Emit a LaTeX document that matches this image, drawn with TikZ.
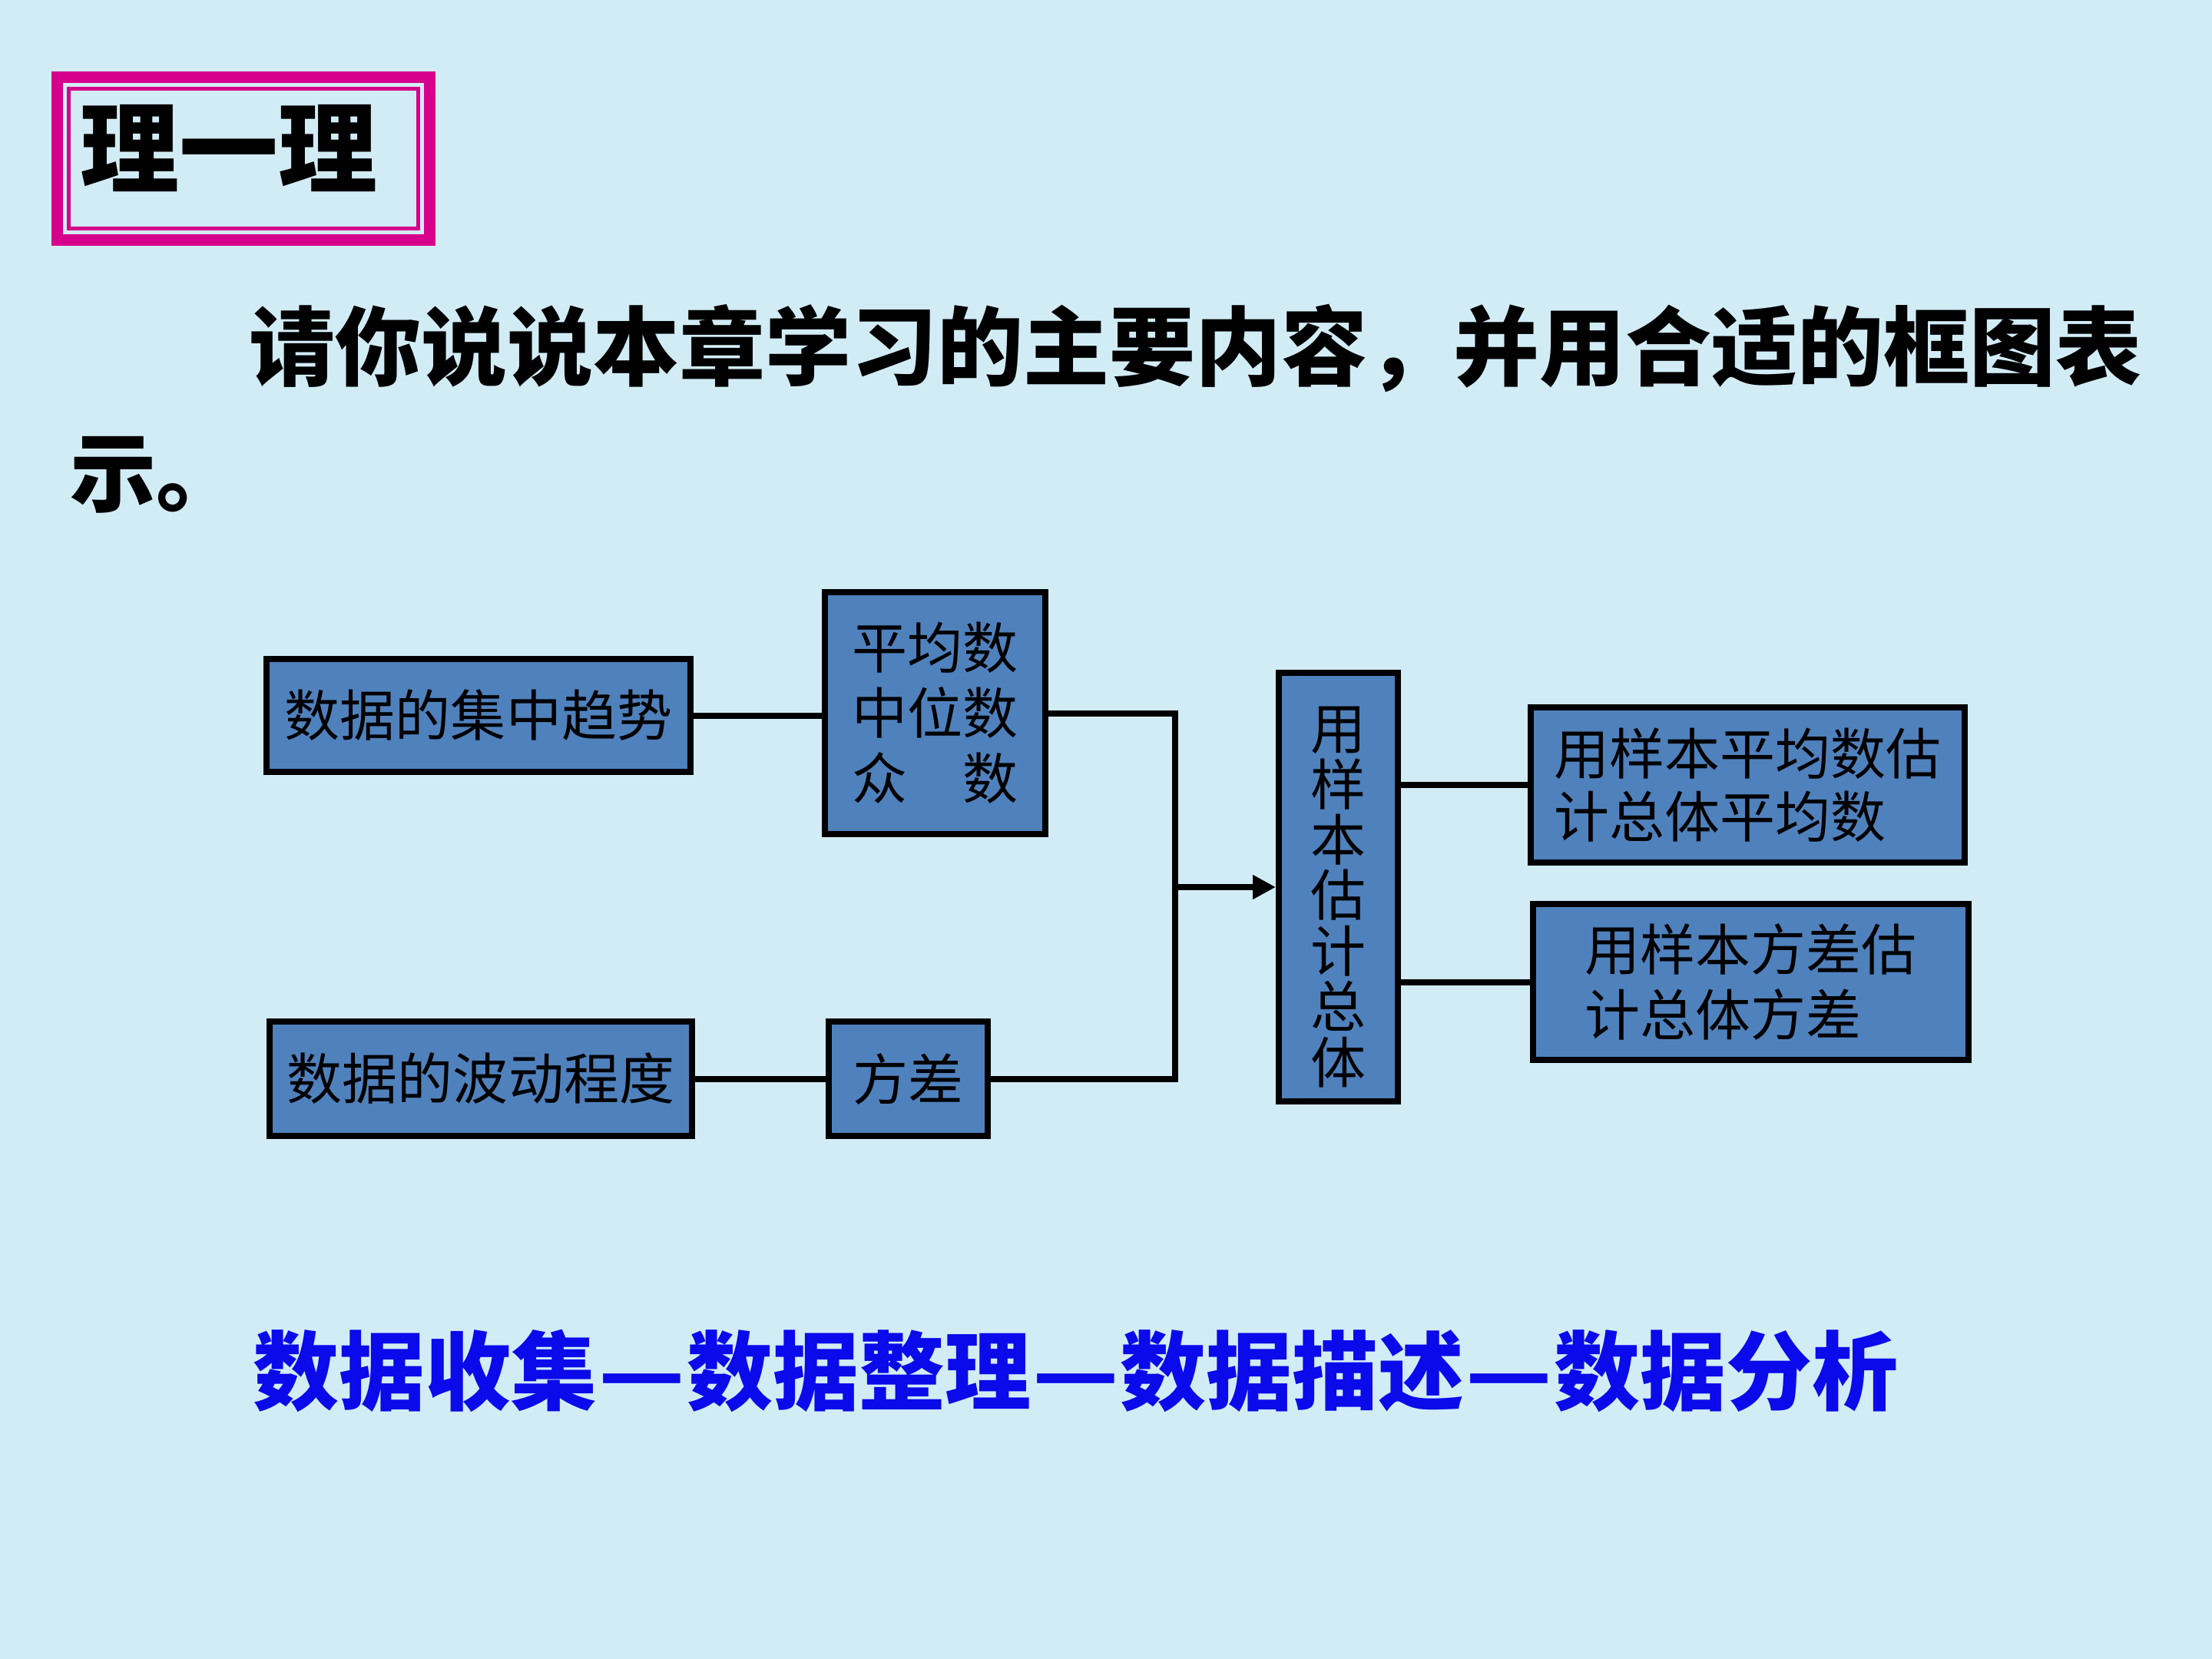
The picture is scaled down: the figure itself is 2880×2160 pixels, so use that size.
\documentclass[tikz,border=0pt]{standalone}
\usepackage{fontspec}
\usetikzlibrary{arrows.meta}
\newfontfamily\cjk{Noto Sans CJK SC}
\definecolor{bgblue}{RGB}{210,236,246}
\definecolor{boxblue}{RGB}{79,129,189}
\definecolor{framemag}{RGB}{214,0,140}
\definecolor{textblue}{RGB}{10,10,235}
\newcommand{\longdash}{\makebox[1.04em][c]{\scalebox{1.1}[1]{—}}}
\tikzset{
  box/.style={draw=black, line width=0.8mm, fill=boxblue, inner sep=0pt, align=left,
    font=\cjk\fontsize{20.49pt}{24pt}\selectfont},
  link/.style={draw=black, line width=0.8mm},
  bigtext/.style={inner sep=0pt, font=\cjk\bfseries\fontsize{31.87pt}{36pt}\selectfont},
}
\begin{document}
\begin{tikzpicture}[x=0.1mm, y=-0.1mm]
\fill[bgblue] (0,0) rectangle (2880,2160);
\useasboundingbox (0,0) rectangle (2880,2160);

% title frame
\draw[framemag, line width=1.5mm] (74.5,100.5) rectangle (559.5,312.5);
\draw[framemag, line width=0.5mm] (89.5,115.5) rectangle (544.5,297.5);
\node[inner sep=0pt, anchor=base west, font=\cjk\bfseries\fontsize{36.7pt}{40pt}\selectfont] (title) at (104,241) {理一理};

% question
\node[bigtext, anchor=base west] (q1) at (324,493) {请你说说本章学习的主要内容，并用合适的框图表};
\node[bigtext, anchor=base west] (q2) at (91,657) {示。};

% boxes
\node[box, minimum width=55.2mm, minimum height=14.7mm] (A) at (623,931.5) {数据的集中趋势};
\node[box, minimum width=28.7mm, minimum height=31.5mm, font=\cjk\fontsize{20.49pt}{24.2pt}\selectfont] (B) at (1217.5,928.5) {平均数\\中位数\\众　数};
\node[box, minimum width=55.0mm, minimum height=14.9mm] (C) at (626,1404.5) {数据的波动程度};
\node[box, minimum width=20.7mm, minimum height=14.9mm] (D) at (1182.5,1404.5) {方差};
\node[box, minimum width=15.5mm, minimum height=55.8mm] (E) at (1742.5,1155) {};
\node[inner sep=0pt, align=center, font=\cjk\fontsize{20.49pt}{20.6pt}\selectfont] (Et) at ([yshift=-1.3mm]E.center) {用\\样\\本\\估\\计\\总\\体};
\node[box, minimum width=56.5mm, minimum height=20.2mm, font=\cjk\fontsize{20.49pt}{23.3pt}\selectfont] (F) at (2275.5,1022) {用样本平均数估\\计总体平均数};
\node[box, minimum width=56.7mm, minimum height=20.3mm, font=\cjk\fontsize{20.49pt}{24.2pt}\selectfont] (G) at (2279.5,1278.5) {用样本方差估\\计总体方差};

% connectors
\coordinate (bx) at (1530,1155);
\draw[link] (A.east) -- (A.east -| B.west);
\draw[link] (C.east) -- (C.east -| D.west);
\draw[link, line join=miter] (B.east) -- (B.east -| bx) -- (bx |- D.east) -- (D.east);
\draw[link, -{Triangle[length=3.0mm, width=3.0mm]}] (bx |- E.west) -- (E.west);
\draw[link] (E.east |- F.west) -- (F.west);
\draw[link] (E.east |- G.west) -- (G.west);

% bottom line
\node[bigtext, anchor=base west, text=textblue] (flow) at (329,1827) {数据收集\longdash 数据整理\longdash 数据描述\longdash 数据分析};
\end{tikzpicture}
\end{document}
